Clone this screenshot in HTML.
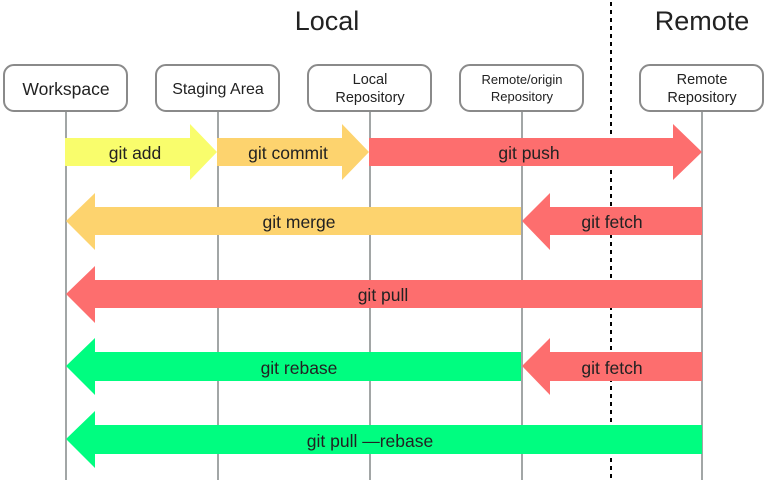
<!DOCTYPE html>
<html><head><meta charset="utf-8"><style>
html,body{margin:0;padding:0;background:#fff;}
svg{display:block;}
text{font-family:"Liberation Sans",sans-serif;fill:#222;}
</style></head><body>
<svg width="770" height="480" viewBox="0 0 770 480" xmlns="http://www.w3.org/2000/svg">
<rect width="770" height="480" fill="#fff"/>
<text x="327" y="30" font-size="27" text-anchor="middle" fill="#111">Local</text>
<text x="702" y="30" font-size="27" text-anchor="middle" fill="#111">Remote</text>
<line x1="611" y1="2" x2="611" y2="480" stroke="#000" stroke-width="2" stroke-dasharray="4,4"/>
<g stroke="#a2a6a6" stroke-width="2">
<line x1="66" y1="111" x2="66" y2="480"/>
<line x1="218" y1="111" x2="218" y2="480"/>
<line x1="370" y1="111" x2="370" y2="480"/>
<line x1="522" y1="111" x2="522" y2="480"/>
<line x1="702" y1="111" x2="702" y2="480"/>
</g>
<g fill="#fff" stroke="#8a8a8a" stroke-width="2">
<rect x="4" y="65" width="123" height="46" rx="10"/>
<rect x="156" y="65" width="123" height="46" rx="10"/>
<rect x="308" y="65" width="123" height="46" rx="10"/>
<rect x="460" y="65" width="123" height="46" rx="10"/>
<rect x="640" y="65" width="123" height="46" rx="10"/>
</g>
<text x="66" y="95" font-size="17.5" text-anchor="middle">Workspace</text>
<text x="218" y="94" font-size="16" text-anchor="middle">Staging Area</text>
<text x="370" y="84" font-size="14.5" text-anchor="middle">Local</text>
<text x="370" y="102" font-size="14.5" text-anchor="middle">Repository</text>
<text x="522" y="84" font-size="13" text-anchor="middle">Remote/origin</text>
<text x="522" y="101" font-size="13" text-anchor="middle">Repository</text>
<text x="702" y="84" font-size="14.5" text-anchor="middle">Remote</text>
<text x="702" y="102" font-size="14.5" text-anchor="middle">Repository</text>
<polygon points="65,138 190,138 190,124 217,152 190,180 190,166 65,166" fill="#f9fd6c"/>
<polygon points="217,138 342,138 342,124 369,152 342,180 342,166 217,166" fill="#fdd36e"/>
<polygon points="369,138 673,138 673,124 702,152 673,180 673,166 369,166" fill="#fd6e6e"/>
<text x="135" y="159" font-size="17.5" text-anchor="middle">git add</text>
<text x="288" y="159" font-size="17.5" text-anchor="middle">git commit</text>
<text x="529" y="159" font-size="17.5" text-anchor="middle">git push</text>
<polygon points="521,207 95,207 95,193 66,221 95,250 95,235 521,235" fill="#fdd36e"/>
<polygon points="702,207 550,207 550,193 522,221 550,250 550,235 702,235" fill="#fd6e6e"/>
<text x="299" y="228" font-size="17.5" text-anchor="middle">git merge</text>
<text x="612" y="228" font-size="17.5" text-anchor="middle">git fetch</text>
<polygon points="702,280 95,280 95,266 66,294 95,323 95,308 702,308" fill="#fd6e6e"/>
<text x="383" y="301" font-size="17.5" text-anchor="middle">git pull</text>
<polygon points="521,352 95,352 95,338 66,366 95,395 95,381 521,381" fill="#00fd80"/>
<polygon points="702,352 550,352 550,338 522,366 550,395 550,381 702,381" fill="#fd6e6e"/>
<text x="299" y="374" font-size="17.5" text-anchor="middle">git rebase</text>
<text x="612" y="374" font-size="17.5" text-anchor="middle">git fetch</text>
<polygon points="702,425 95,425 95,411 66,439 95,468 95,454 702,454" fill="#00fd80"/>
<text x="370" y="447" font-size="17.5" text-anchor="middle">git pull —rebase</text>
</svg>
</body></html>
